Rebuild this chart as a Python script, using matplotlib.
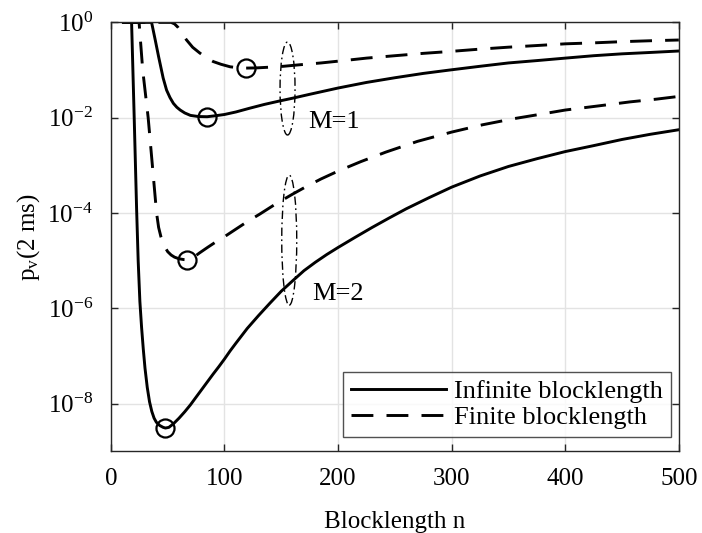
import numpy as np
import matplotlib
matplotlib.use("Agg")
import matplotlib.pyplot as plt
from matplotlib.patches import Ellipse
from matplotlib.ticker import FixedLocator, FuncFormatter, NullLocator

plt.rcParams["font.family"] = "Liberation Serif"
plt.rcParams["mathtext.fontset"] = "custom"
plt.rcParams["mathtext.rm"] = "Liberation Serif"
plt.rcParams["mathtext.it"] = "Liberation Serif:italic"

# M=1, infinite blocklength
n_inf1 = [11, 35.8, 39, 42, 46, 49, 52, 55, 58, 61, 65, 70, 77, 84.7, 92, 100, 110, 122, 135,
          149, 160, 175, 200, 225, 250, 275, 298, 325, 350, 375, 400, 425, 450, 475, 500]
p_inf1 = [1.0, 1.0, 0.43, 0.19, 6.8e-2, 3.8e-2, 2.65e-2, 2.0e-2, 1.66e-2, 1.45e-2, 1.26e-2,
          1.12e-2, 1.06e-2, 1.05e-2, 1.1e-2, 1.17e-2, 1.32e-2, 1.58e-2, 1.9e-2, 2.26e-2,
          2.57e-2, 3.1e-2, 4.2e-2, 5.5e-2, 6.9e-2, 8.5e-2, 0.100, 0.120, 0.141, 0.158,
          0.178, 0.200, 0.219, 0.234, 0.251]

# M=1, finite blocklength
n_fin1 = [11, 53, 56, 59, 62, 66.5, 72, 78, 84, 90, 97, 105, 112, 119, 128, 140, 152, 166,
          185, 205, 225, 250, 275, 298, 325, 350, 375, 400, 425, 450, 475, 500]
p_fin1 = [1.0, 1.0, 0.93, 0.79, 0.62, 0.43, 0.30, 0.23, 0.182, 0.151, 0.132, 0.117, 0.112,
          0.110, 0.111, 0.115, 0.120, 0.129, 0.141, 0.158, 0.178, 0.200, 0.224, 0.245,
          0.275, 0.302, 0.327, 0.355, 0.372, 0.394, 0.412, 0.427]

# M=2, infinite blocklength
n_inf2 = [11, 18.2, 20.5, 22.6, 24, 25.5, 27, 28.5, 30, 32, 34, 36, 38, 40, 43, 46, 48, 51,
          55, 60, 65, 70, 75, 80, 85, 90, 95, 100, 105, 110, 120, 130, 140, 150, 160, 170,
          180, 190, 200, 215, 230, 245, 260, 280, 300, 325, 350, 375, 400, 425, 450, 475, 500]
p_inf2 = [1.0, 1.0, 1.0e-2, 1.26e-4, 1.0e-5, 1.4e-6, 4.0e-7, 1.4e-7, 5.6e-8, 2.2e-8, 1.1e-8,
          6.9e-9, 5.0e-9, 4.1e-9, 3.5e-9, 3.2e-9, 3.1e-9, 3.2e-9, 3.8e-9, 5.0e-9, 6.8e-9,
          9.5e-9, 1.38e-8, 2.0e-8, 2.9e-8, 4.2e-8, 6.0e-8, 8.7e-8, 1.29e-7, 1.86e-7, 3.8e-7,
          7.1e-7, 1.29e-6, 2.3e-6, 3.8e-6, 6.2e-6, 9.3e-6, 1.35e-5, 1.9e-5, 3.1e-5, 5.0e-5,
          7.9e-5, 1.23e-4, 2.1e-4, 3.5e-4, 6.0e-4, 9.5e-4, 1.38e-3, 1.95e-3, 2.6e-3, 3.5e-3,
          4.5e-3, 5.6e-3]

# M=2, finite blocklength
n_fin2 = [11, 24.8, 28, 32.8, 36.5, 40.2, 42, 44, 46, 48, 50, 53, 56, 60, 64, 67, 70, 74, 78,
          85, 92, 100, 110, 120, 131, 145, 160, 172, 185, 200, 220, 242, 270, 300, 327, 354,
          377, 400, 430, 457, 480, 500]
p_fin2 = [1.0, 1.0, 0.1, 1e-2, 1e-3, 1e-4, 5.0e-5, 3.2e-5, 2.35e-5, 1.86e-5, 1.55e-5,
          1.32e-5, 1.19e-5, 1.1e-5, 1.06e-5, 1.05e-5, 1.1e-5, 1.24e-5, 1.46e-5, 1.9e-5,
          2.45e-5, 3.2e-5, 4.6e-5, 6.6e-5, 9.5e-5, 1.55e-4, 2.5e-4, 3.6e-4, 5.2e-4, 7.6e-4,
          1.2e-3, 1.9e-3, 3.2e-3, 5.0e-3, 7.1e-3, 9.5e-3, 1.17e-2, 1.45e-2, 1.78e-2,
          2.15e-2, 2.45e-2, 2.8e-2]

# annotation ellipses (center in data units) and labels
ell_n = [155.5, 157.0]
ell_p = [4.1e-2, 2.7e-5]
ell_w_px = [15, 15]
ell_h_px = [93, 130]
lab_text = ["M=1", "M=2"]
lab_n = [173.5, 177.0]
lab_p = [8.1e-3, 2.0e-6]

fig = plt.figure(figsize=(7.02, 5.33), dpi=100)
ax = fig.add_axes([0.158, 0.153, 0.809, 0.805])

dash = (7.5, 4.5)
ax.plot(n_inf1, p_inf1, color="k", lw=2.1, label="Infinite blocklength")
ax.plot(n_fin1, p_fin1, color="k", lw=2.1, dashes=dash, label="Finite blocklength")
ax.plot(n_inf2, p_inf2, color="k", lw=2.1)
ax.plot(n_fin2, p_fin2, color="k", lw=2.1, dashes=dash)

for nn, pp in [(n_inf1, p_inf1), (n_fin1, p_fin1), (n_inf2, p_inf2), (n_fin2, p_fin2)]:
    i = int(np.argmin(pp))
    ax.plot(nn[i], pp[i], "o", ms=13, mfc="none", mec="k", mew=1.6, zorder=5)

ax.set_yscale("log")
ax.set_xlim(0, 500)
ax.set_ylim(1e-9, 1)
ax.set_xticks([0, 100, 200, 300, 400, 500])
ax.yaxis.set_major_locator(FixedLocator([1e-8, 1e-6, 1e-4, 1e-2, 1e0]))
ax.yaxis.set_minor_locator(NullLocator())
ax.yaxis.set_major_formatter(FuncFormatter(lambda v, pos: r"$\mathregular{10^{%d}}$" % round(np.log10(v))))

ax.grid(True, color="#e3e3e3", lw=1.0)
ax.set_axisbelow(True)
ax.tick_params(direction="in", length=5, width=1, top=True, right=True,
               labelsize=18, color="#262626")
ax.tick_params(axis="x", pad=12)
ax.tick_params(axis="y", pad=13)
for s in ax.spines.values():
    s.set_color("#262626")
    s.set_linewidth(1.0)

# ellipses in axes coordinates so they stay round on log axis
bbox = ax.get_window_extent()
to_axes = ax.transData + ax.transAxes.inverted()
for i in range(len(ell_n)):
    cx, cy = to_axes.transform((ell_n[i], ell_p[i]))
    e = Ellipse((cx, cy), ell_w_px[i] / bbox.width, ell_h_px[i] / bbox.height,
                transform=ax.transAxes, fill=False, ec="k", lw=1.0,
                linestyle=(0, (6, 2.5, 1.2, 2.5)), zorder=4)
    ax.add_patch(e)
    ax.text(lab_n[i], lab_p[i], lab_text[i], fontsize=19, ha="left", va="center")

ax.set_xlabel("Blocklength n", fontsize=18, labelpad=15)
ax.set_ylabel(r"p$_{\mathregular{v}}$(2 ms)", fontsize=18, labelpad=4)

leg = ax.legend(loc="lower right", bbox_to_anchor=(0.986, 0.033), fontsize=19,
                frameon=True, fancybox=False, edgecolor="#262626", handlelength=3.6,
                handletextpad=0.3, borderpad=0.3, labelspacing=0.1, borderaxespad=0)
leg.get_frame().set_linewidth(1.0)

fig.savefig("out.png", dpi=100)
